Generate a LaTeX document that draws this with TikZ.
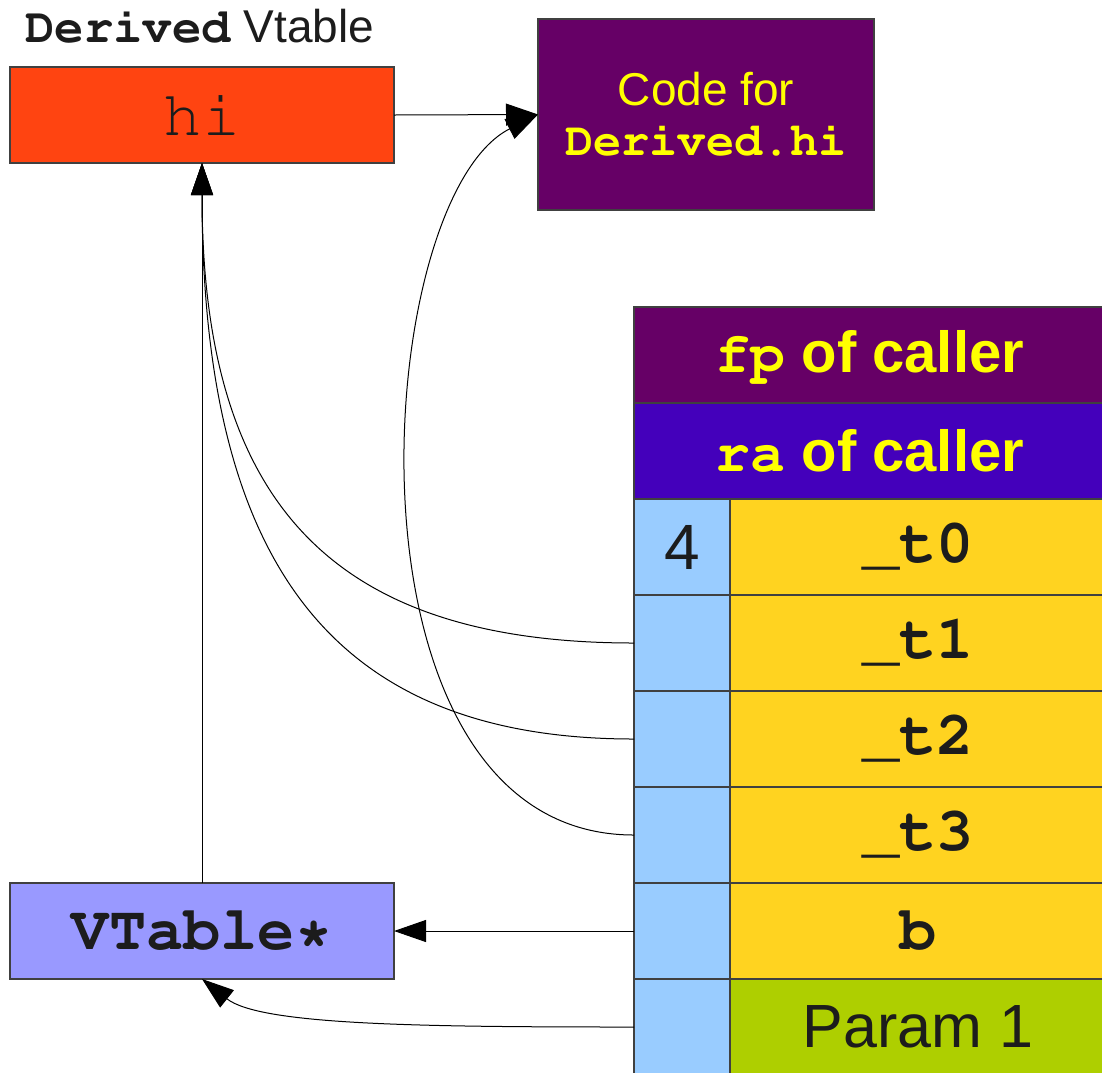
\documentclass[tikz,border=0pt]{standalone}
\usepackage[T1]{fontenc}
\usepackage{fontspec}
\setmainfont{Liberation Sans}
\usepackage{xcolor}
\usepackage{tikz}
\usetikzlibrary{arrows.meta, positioning}

\definecolor{slotred}{HTML}{FF4411}
\definecolor{codepurple}{HTML}{660066}
\definecolor{rablue}{HTML}{4400BB}
\definecolor{idxblue}{HTML}{99CCFF}
\definecolor{tmpgold}{HTML}{FFD320}
\definecolor{paramgreen}{HTML}{AECF00}
\definecolor{ptrviolet}{HTML}{9999FF}
\definecolor{txtyellow}{HTML}{FFFF00}
\definecolor{ink}{HTML}{1C1C1C}

\newcommand\cour{\fontencoding{T1}\fontfamily{pcr}\selectfont}
\newcommand\fsz[2]{\fontsize{#1}{#2}\selectfont}

\begin{document}
\begin{tikzpicture}[x=1pt,y=-1pt,
    box/.style={draw=black!75,line width=1.2pt,outer sep=0pt,inner sep=0pt,
                text=ink,align=center},
    frame/.style={box,minimum width=472pt,minimum height=96pt,text=txtyellow,
                  font=\fsz{58}{58}\bfseries},
    idx/.style={box,fill=idxblue,minimum width=96pt,minimum height=96pt},
    val/.style={box,minimum width=376pt,minimum height=96pt,
                font=\fsz{62}{62}\cour\bfseries},
    link/.style={draw=black,line width=1pt,
                 -{Triangle[length=32pt,width=22pt]}}]
  \useasboundingbox (0,0) rectangle (1102,1072);

  % vtable and code
  \node[anchor=base west,inner sep=0pt,text=ink,font=\fsz{46}{46}] (title)
    at (25,42) {{\cour\bfseries\fsz{49}{49}Derived} Vtable};
  \node[box,fill=slotred,minimum width=384pt,minimum height=96pt,
        font=\fsz{64}{64}\cour] (hi) at (202,115) {hi};
  \node[box,fill=codepurple,text=txtyellow,
        minimum width=336pt,minimum height=191pt,font=\fsz{46}{50}] (code)
    at (706,114.5) {Code for\\{\cour\bfseries\fsz{47}{50}Derived.hi}};
  \node[box,fill=ptrviolet,minimum width=384pt,minimum height=96pt,
        font=\fsz{62}{62}\cour\bfseries] (vt) at (202,931) {VTable*};

  % stack frame
  \node[frame,fill=codepurple,anchor=north west] (fp) at (634,307)
    {{\cour fp} of caller};
  \node[frame,fill=rablue,below=0pt of fp] (ra) {{\cour ra} of caller};
  \node[idx,below right=0pt of ra.south west,font=\fsz{64}{64}] (i0) {4};
  \node[idx,below=0pt of i0] (i1) {};
  \node[idx,below=0pt of i1] (i2) {};
  \node[idx,below=0pt of i2] (i3) {};
  \node[idx,below=0pt of i3] (i4) {};
  \node[idx,below=0pt of i4] (i5) {};
  \node[val,fill=tmpgold,right=0pt of i0] (t0) {\_t0};
  \node[val,fill=tmpgold,right=0pt of i1] (t1) {\_t1};
  \node[val,fill=tmpgold,right=0pt of i2] (t2) {\_t2};
  \node[val,fill=tmpgold,right=0pt of i3] (t3) {\_t3};
  \node[val,fill=tmpgold,right=0pt of i4] (b) {b};
  \node[val,fill=paramgreen,right=0pt of i5,font=\fsz{61}{61}] (p1) {Param 1};

  % pointers
  \draw[link] (hi.east) -- (code.west);
  \draw[link] (vt.north) -- (hi.south);
  \draw[link] (i1.west) .. controls +(-304,0) and +(0,338) .. (hi.south);
  \draw[link] (i2.west) .. controls +(-304,0) and +(0,398) .. (hi.south);
  \draw[link] (i3.west) .. controls +(-304,0) and +(-168,85) .. (code.west);
  \draw[link] (i4.west) -- (vt.east);
  \draw[link] (i5.west) .. controls +(-214,0) and +(58,46) .. (vt.south);
\end{tikzpicture}
\end{document}
